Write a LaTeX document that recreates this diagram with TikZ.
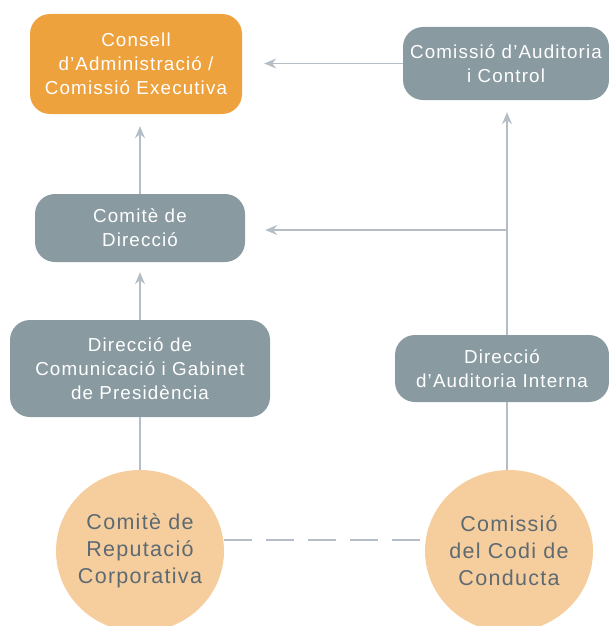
\documentclass[tikz,border=0pt]{standalone}
\usepackage{fontspec}
\setmainfont{Liberation Sans}[LetterSpace=6]
\usetikzlibrary{arrows.meta,shapes.geometric}
\definecolor{boxgray}{HTML}{8A9AA1}
\definecolor{orangebox}{HTML}{EEA23D}
\definecolor{peach}{HTML}{F6CE9E}
\definecolor{linec}{HTML}{B5BDC6}
\definecolor{circtext}{HTML}{5E6A72}
\begin{document}
\begin{tikzpicture}[x=1pt,y=-1pt,
  box/.style={rectangle,rounded corners=20pt,fill=boxgray,text=white,align=center,inner sep=0pt,font=\fontsize{18.8}{24}\selectfont},
  obox/.style={box,fill=orangebox},
  circ/.style={ellipse,fill=peach,text=circtext,align=center,inner sep=-10pt,font=\fontsize{21.5}{27}\selectfont},
  conn/.style={draw=linec,line width=1.1pt},
  arr/.style={conn,-{Stealth[length=12pt,width=10pt,inset=4pt]}}]
\useasboundingbox (0,0) rectangle (609,626);
\node[obox,minimum width=212pt,minimum height=100pt] (consell) at (136,64) {Consell\\d’Administració /\\Comissió Executiva};
\node[box,minimum width=206pt,minimum height=73pt] (comaud) at (506,63.5) {Comissió d’Auditoria\\i Control};
\node[box,minimum width=210pt,minimum height=68pt] (comite) at (140,228) {Comitè de\\Direcció};
\node[box,minimum width=260pt,minimum height=97pt] (comunic) at (140,368.5) {Direcció de\\Comunicació i Gabinet\\de Presidència};
\node[box,minimum width=214pt,minimum height=67pt] (audint) at (502,368.5) {Direcció\\d’Auditoria Interna};
\node[circ,minimum width=168pt,minimum height=162pt] (rep) at (140,551) {Comitè de\\Reputació\\Corporativa};
\node[circ,minimum width=168pt,minimum height=162pt] (codi) at (509,551) {Comissió\\del Codi de\\Conducta};
\coordinate (j) at (507,230);
\draw[arr,shorten >=12pt] (comite.north) -- (comite.north |- consell.south);
\draw[arr,shorten >=22pt] (comaud.west) -- (comaud.west -| consell.east);
\draw[arr,shorten >=12pt] (audint.north -| j) -- (comaud.south -| j);
\draw[arr,shorten >=20pt] (j) -- (j -| comite.east);
\draw[arr,shorten >=10pt] (comunic.north) -- (comite.south);
\draw[conn] (comunic.south) -- (rep.north);
\draw[conn] (audint.south -| j) -- (j |- codi.north);
\draw[conn,dash pattern=on 28pt off 14pt] ([yshift=11pt]rep.east) -- ([yshift=11pt]codi.west);
\end{tikzpicture}
\end{document}
